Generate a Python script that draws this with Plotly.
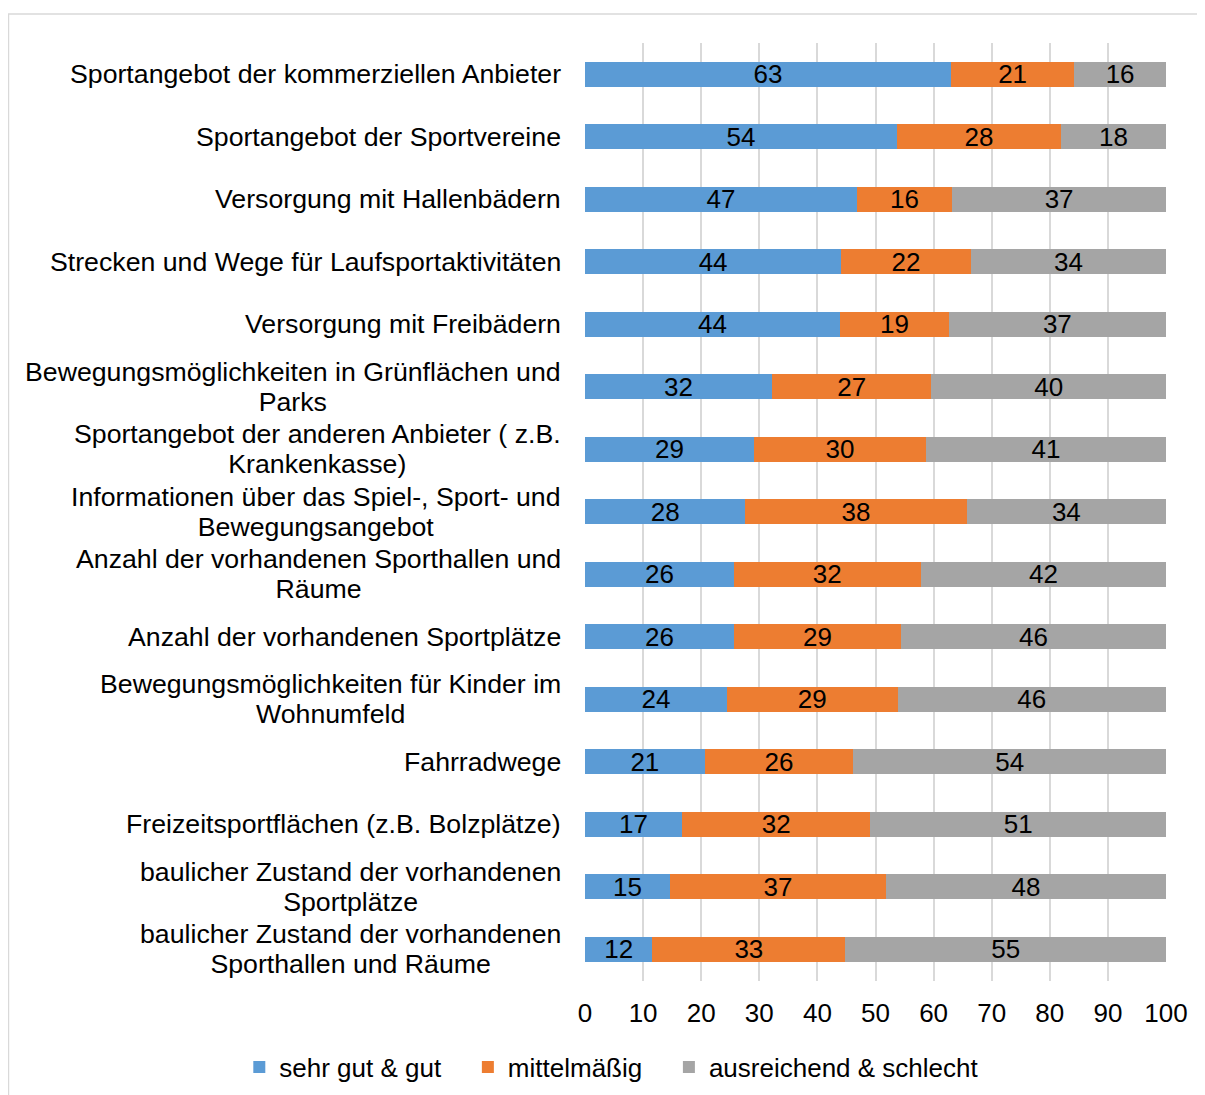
import plotly.graph_objects as go

# categories, top to bottom
categories = [
    "Sportangebot der kommerziellen Anbieter",
    "Sportangebot der Sportvereine",
    "Versorgung mit Hallenbädern",
    "Strecken und Wege für Laufsportaktivitäten",
    "Versorgung mit Freibädern",
    "Bewegungsmöglichkeiten in Grünflächen und<br>Parks",
    "Sportangebot der anderen Anbieter ( z.B.<br>Krankenkasse)",
    "Informationen über das Spiel-, Sport- und<br>Bewegungsangebot",
    "Anzahl der vorhandenen Sporthallen und<br>Räume",
    "Anzahl der vorhandenen Sportplätze",
    "Bewegungsmöglichkeiten für Kinder im<br>Wohnumfeld",
    "Fahrradwege",
    "Freizeitsportflächen (z.B. Bolzplätze)",
    "baulicher Zustand der vorhandenen<br>Sportplätze",
    "baulicher Zustand der vorhandenen<br>Sporthallen und Räume",
]

# percentages (labels rounded)
sehr_gut = [63.0, 53.7, 46.8, 44.1, 43.9, 32.2, 29.1, 27.6, 25.6, 25.6, 24.4, 20.6, 16.7, 14.6, 11.6]
mittel = [21.2, 28.2, 16.4, 22.3, 18.7, 27.4, 29.6, 38.1, 32.2, 28.8, 29.4, 25.6, 32.4, 37.2, 33.2]
schlecht = [15.8, 18.1, 36.8, 33.6, 37.4, 40.4, 41.3, 34.3, 42.2, 45.6, 46.2, 53.8, 50.9, 48.2, 55.2]

series = [
    ("sehr gut & gut", sehr_gut, "#5B9BD5"),
    ("mittelmäßig", mittel, "#ED7D31"),
    ("ausreichend & schlecht", schlecht, "#A5A5A5"),
]

FONT = "Liberation Sans, Arial, sans-serif"
FS = 26
PAD = "\u00a0\u00a0\u00a0"  # extra room between legend entries

fig = go.Figure()
for name, vals, color in series:
    fig.add_trace(go.Bar(
        y=categories,
        x=vals,
        name=name + PAD,
        orientation="h",
        marker=dict(color=color, line=dict(width=0)),
        texttemplate="%{x:.0f}",
        textposition="inside",
        insidetextanchor="middle",
        constraintext="none",
        textfont=dict(color="black", size=FS, family=FONT),
        textangle=0,
    ))

# category labels as annotations (wrapped lines centred like the original);
# annotation font sets the tighter line spacing, span sets the glyph size
for cat in categories:
    text = "<br>".join(
        f"<span style='font-size:26.7px'>{line}</span>" for line in cat.split("<br>")
    )
    fig.add_annotation(
        x=0, xref="paper", y=cat, yref="y",
        text=text, showarrow=False,
        xanchor="right", xshift=-22, align="center",
        font=dict(size=23, color="black", family=FONT),
    )

# outer chart border
fig.add_shape(
    type="rect", xref="paper", yref="paper",
    x0=-0.9923, x1=1.2, y0=-0.3, y1=1.0309,
    line=dict(color="#D9D9D9", width=1.5),
    fillcolor="rgba(0,0,0,0)",
)

fig.update_layout(
    width=1197, height=1087,
    barmode="stack",
    bargap=0.6,
    margin=dict(l=577, r=39, t=35, b=114, autoexpand=False),
    plot_bgcolor="white",
    paper_bgcolor="white",
    font=dict(family=FONT, size=FS, color="black"),
    xaxis=dict(
        range=[0, 100],
        dtick=10,
        showgrid=True,
        gridcolor="#D9D9D9",
        gridwidth=1.5,
        zeroline=False,
        showline=False,
        ticks="",
        ticklabelstandoff=14,
        tickfont=dict(size=FS, color="black"),
    ),
    yaxis=dict(
        autorange="reversed",
        showticklabels=False,
        showgrid=False,
        zeroline=False,
        showline=False,
    ),
    legend=dict(
        orientation="h",
        x=-0.595, xanchor="left",
        y=-0.0917, yanchor="middle",
        font=dict(size=FS, color="black"),
        itemwidth=30,
        traceorder="normal",
    ),
)

fig.write_html("out.html")
